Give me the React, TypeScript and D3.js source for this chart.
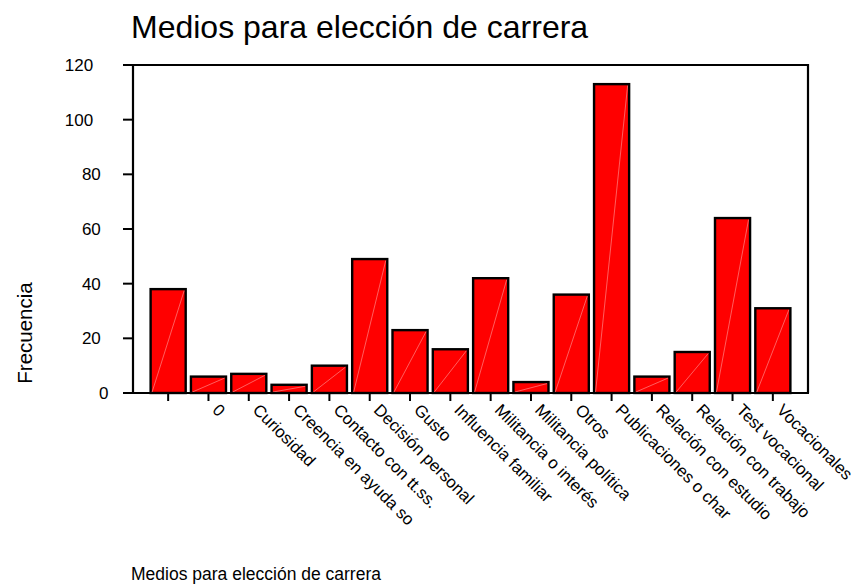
import React from "react";
import * as d3 from "d3";

const categories: string[] = [
  "",
  "0",
  "Curiosidad",
  "Creencia en ayuda so",
  "Contacto con tt.ss.",
  "Decisión personal",
  "Gusto",
  "Influencia familiar",
  "Militancia o interés",
  "Militancia política",
  "Otros",
  "Publicaciones o char",
  "Relación con estudio",
  "Relación con trabajo",
  "Test vocacional",
  "Vocacionales",
];
const frequencies: number[] = [38, 6, 7, 3, 10, 49, 23, 16, 42, 4, 36, 113, 6, 15, 64, 31];
const yTicks: number[] = [0, 20, 40, 60, 80, 100, 120];
const title = "Medios para elección de carrera";
const xTitle = "Medios para elección de carrera";
const yTitle = "Frecuencia";

const W = 856;
const H = 587;
const frame = { left: 133, right: 808, top: 65, bottom: 393 };
const FONT = "'Liberation Sans', Arial, Helvetica, sans-serif";

export default function App() {
  const x = d3
    .scaleBand<string>()
    .domain(categories)
    .range([148, 793])
    .paddingInner(0.13)
    .paddingOuter(0.065);
  const y = d3.scaleLinear().domain([0, 120]).range([frame.bottom, frame.top]);

  return (
    <svg
      width={W}
      height={H}
      style={{ position: "absolute", left: 0, top: 0, display: "block", background: "#fff" }}
      fontFamily={FONT}
    >
      <text x={131} y={38} fontSize={32} fill="#000">
        {title}
      </text>

      {/* bars */}
      {categories.map((c, i) => {
        const bx = x(c)!;
        const bw = x.bandwidth();
        const by = y(frequencies[i]);
        const bh = y(0) - by;
        return (
          <g key={i}>
            <rect x={bx} y={by} width={bw} height={bh} fill="#ff0000" stroke="#000" strokeWidth={2.4} />
            <line
              x1={bx + 1.5}
              y1={y(0) - 1}
              x2={bx + bw - 1.5}
              y2={by + 1.5}
              stroke="#ff9d9d"
              strokeWidth={0.6}
            />
          </g>
        );
      })}

      {/* frame */}
      <path
        d={`M${frame.left},${frame.bottom} L${frame.left},${frame.top} L${frame.right},${frame.top} L${frame.right},${frame.bottom}`}
        fill="none"
        stroke="#000"
        strokeWidth={2.2}
      />
      <line x1={123} x2={frame.right + 1} y1={frame.bottom} y2={frame.bottom} stroke="#000" strokeWidth={2.2} />

      {/* y ticks */}
      {yTicks.map((t) => {
        const s = String(t);
        return (
          <g key={t}>
            <line x1={123} x2={frame.left} y1={y(t)} y2={y(t)} stroke="#000" strokeWidth={2} />
            <text
              x={108.5 - 7.7 * (s.length - 1)}
              y={y(t)}
              dy="0.35em"
              textAnchor="end"
              fontSize={17}
              fill="#000"
            >
              {s}
            </text>
          </g>
        );
      })}

      {/* x ticks and labels */}
      {categories.map((c, i) => {
        const cx = x(c)! + x.bandwidth() / 2;
        return (
          <g key={"t" + i}>
            <line x1={cx} x2={cx} y1={frame.bottom} y2={frame.bottom + 8} stroke="#000" strokeWidth={2} />
            <text
              transform={`translate(${cx + 3},${411}) rotate(45)`}
              fontSize={16.8}
              textAnchor="start"
              fill="#000"
            >
              {c}
            </text>
          </g>
        );
      })}

      <text x={131} y={580} fontSize={17.5} fill="#000">
        {xTitle}
      </text>
      <text transform={`translate(32,${333}) rotate(-90)`} textAnchor="middle" fontSize={20.5} fill="#000">
        {yTitle}
      </text>
    </svg>
  );
}
